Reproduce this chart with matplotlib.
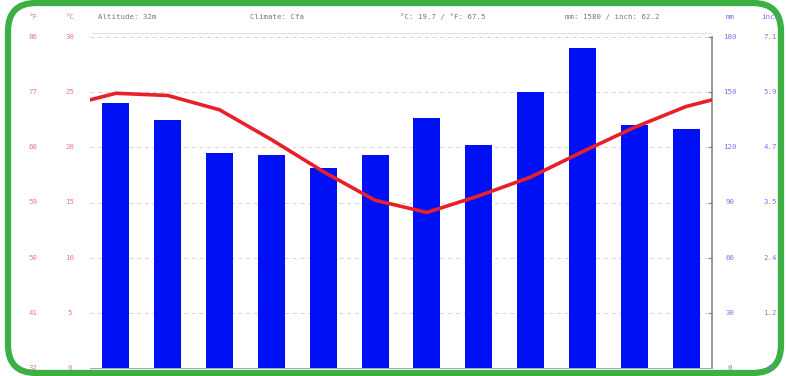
import matplotlib.pyplot as plt
import numpy as np
from matplotlib.patches import FancyBboxPatch

months = ['Jan', 'Feb', 'Mar', 'Apr', 'May', 'Jun', 'Jul', 'Aug', 'Sep', 'Oct', 'Nov', 'Dec']
precip_mm = [144, 135, 117, 116, 109, 116, 136, 121, 150, 174, 132, 130]
temp_c = [24.9, 24.7, 23.4, 20.7, 17.8, 15.2, 14.1, 15.6, 17.3, 19.6, 21.8, 23.7]

c_ticks = [0, 5, 10, 15, 20, 25, 30]
f_ticks = ['32', '41', '50', '59', '68', '77', '86']
mm_ticks = ['0', '30', '60', '90', '120', '150', '180']
inch_ticks = ['0', '1.2', '2.4', '3.5', '4.7', '5.9', '7.1']

header = ['Altitude: 32m', 'Climate: Cfa', '°C: 19.7 / °F: 67.5', 'mm: 1580 / inch: 62.2']

W, H = 786, 376
fig = plt.figure(figsize=(W / 100, H / 100), dpi=100)
fig.patch.set_facecolor('white')

ax = fig.add_axes([90 / W, 8 / H, (712 - 90) / W, (368 - 37) / H])
ax.set_xlim(-0.5, 11.5)
ax.set_ylim(0, 30)
for s in ['top', 'left']:
    ax.spines[s].set_visible(False)
ax.spines['right'].set_color('#888888')
ax.spines['bottom'].set_color('#aaaaaa')
ax.spines['right'].set_linewidth(1.2)
ax.set_xticks([])
ax.set_yticks([])

# grid
for c in c_ticks[1:]:
    ax.axhline(c, color='#d5d5d5', lw=0.7, ls=(0, (4, 4)), zorder=0)
    ax.plot([11.45, 11.5], [c, c], color='#777777', lw=0.8, clip_on=False)

x = np.arange(12)
ax2 = ax.twinx()
ax2.set_ylim(0, 180)
ax2.axis('off')
ax2.bar(x, precip_mm, width=0.52, color='#0010f5', zorder=2)

# temperature line wrapping around the year
edge = (temp_c[0] + temp_c[-1]) / 2
tx = np.concatenate([[-0.5], x, [11.5]])
ty = np.concatenate([[edge], temp_c, [edge]])
ax3 = ax.twinx()
ax3.set_ylim(0, 30)
ax3.axis('off')
ax3.plot(tx, ty, color='#e8202a', lw=2.6, zorder=3,
         solid_capstyle='round', solid_joinstyle='round')

def fy(c):
    return 1 - (368 - c / 30 * 331) / H

red = '#ec7890'
blue = '#7878e8'
txt = dict(fontsize=5.3, family='DejaVu Sans Mono', va='center')
fig.text(33 / W, 1 - 17 / H, '°F', color=red, ha='center', **txt)
fig.text(70 / W, 1 - 17 / H, '°C', color=red, ha='center', **txt)
fig.text(730 / W, 1 - 17 / H, 'mm', color=blue, ha='center', **txt)
fig.text(770 / W, 1 - 17 / H, 'inch', color=blue, ha='center', **txt)
for c, f, m, i in zip(c_ticks, f_ticks, mm_ticks, inch_ticks):
    y = fy(c)
    fig.text(33 / W, y, f, color=red, ha='center', **txt)
    fig.text(70 / W, y, str(c), color=red, ha='center', **txt)
    fig.text(730 / W, y, m, color=blue, ha='center', **txt)
    fig.text(770 / W, y, i, color=blue, ha='center', **txt)

hx = [98, 250, 400, 565]
for hxi, h in zip(hx, header):
    fig.text(hxi / W, 1 - 17 / H, h, color='#777777', ha='left', **txt)
fig.add_artist(plt.Line2D([92 / W, 712 / W], [1 - 33 / H] * 2, color='#e2e2e2', lw=0.8))

# green rounded frame
frame = FancyBboxPatch((8, 3), 773, 370, boxstyle='round,pad=0,rounding_size=28',
                       fill=False, ec='#3cb043', lw=4.5, transform=None)
fig.add_artist(frame)

fig.savefig('out.png', dpi=100)
